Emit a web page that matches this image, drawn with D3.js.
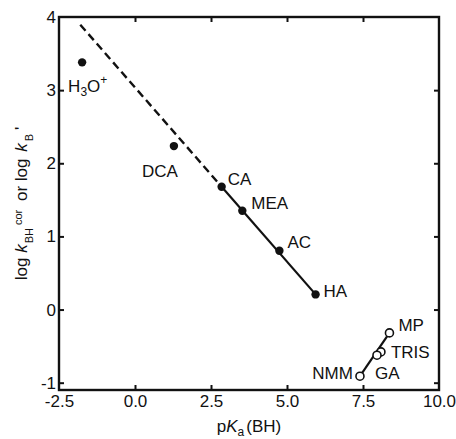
<!DOCTYPE html>
<html>
<head>
<meta charset="utf-8">
<script src="https://cdn.jsdelivr.net/npm/d3@7"></script>
<style>
  html, body { margin: 0; padding: 0; background: #fff; }
  svg { display: block; font-family: "Liberation Sans", Arial, Helvetica, sans-serif; }
</style>
</head>
<body>
<svg id="chart" width="456" height="439"></svg>
<script>
// Acid catalysts: pKa of the conjugate acid vs. log rate constant
const acidNames  = ["H3O+", "DCA", "CA", "MEA", "AC", "HA"];
const acidPKa    = [-1.74, 1.28, 2.85, 3.53, 4.75, 5.94];
const acidLogK   = [3.38, 2.235, 1.679, 1.35, 0.803, 0.207];

// Base catalysts (open symbols)
const baseNames  = ["MP", "TRIS", "GA", "NMM"];
const basePKa    = [8.37, 8.09, 7.96, 7.40];
const baseLogK   = [-0.319, -0.579, -0.624, -0.911];

// Linear fits: [intercept, slope, xStart, xSolidStart, xEnd]
const acidFit    = [3.037, -0.4764, -1.8, 2.85, 5.94];
const baseFit    = [-5.425, 0.610, 7.40, 7.40, 8.37];

const xDomain    = [-2.5, 10];
const yDomain    = [-1.1, 4];
const xTicks     = [-2.5, 0, 2.5, 5, 7.5, 10];
const yTicks     = [-1, 0, 1, 2, 3, 4];

const svg = d3.select("#chart");
const mLeft = 59, mRight = 439, mTop = 17, mBottom = 390;

const x = d3.scaleLinear().domain(xDomain).range([mLeft, mRight]);
const y = d3.scaleLinear().domain(yDomain).range([mBottom, mTop]);

const tickLen = 5;
const fontSize = 17;
const smallSize = 11;
const ink = "#111";

// plain hyphen for negative tick values
const fmtX = d => d3.format(".1f")(d).replace("\u2212", "-");
const fmtY = d => d3.format("d")(d).replace("\u2212", "-");

function styleAxis(g) {
  g.select(".domain").remove();
  g.selectAll(".tick line").attr("stroke", ink).attr("stroke-width", 2);
  g.selectAll(".tick text").attr("fill", ink).style("font-size", fontSize + "px")
    .style("font-family", "'Liberation Sans', Arial, Helvetica, sans-serif");
}

const innerX = xTicks.filter(d => d > xDomain[0] && d < xDomain[1]);
const innerY = yTicks.filter(d => d > yDomain[0] && d < yDomain[1]);

// tick labels
svg.append("g").attr("transform", `translate(0,${mBottom})`)
  .call(d3.axisBottom(x).tickValues(xTicks).tickSizeInner(0).tickSizeOuter(0)
    .tickPadding(5).tickFormat(fmtX))
  .call(styleAxis);
svg.append("g").attr("transform", `translate(${mLeft},0)`)
  .call(d3.axisLeft(y).tickValues(yTicks).tickSizeInner(0).tickSizeOuter(0)
    .tickPadding(3).tickFormat(fmtY))
  .call(styleAxis);

// inward ticks on all four sides
svg.append("g").attr("transform", `translate(0,${mBottom})`)
  .call(d3.axisBottom(x).tickValues(innerX).tickSizeInner(-tickLen).tickSizeOuter(0).tickFormat(""))
  .call(styleAxis);
svg.append("g").attr("transform", `translate(0,${mTop})`)
  .call(d3.axisTop(x).tickValues(innerX).tickSizeInner(-tickLen).tickSizeOuter(0).tickFormat(""))
  .call(styleAxis);
svg.append("g").attr("transform", `translate(${mLeft},0)`)
  .call(d3.axisLeft(y).tickValues(innerY).tickSizeInner(-tickLen).tickSizeOuter(0).tickFormat(""))
  .call(styleAxis);
svg.append("g").attr("transform", `translate(${mRight},0)`)
  .call(d3.axisRight(y).tickValues(innerY).tickSizeInner(-tickLen).tickSizeOuter(0).tickFormat(""))
  .call(styleAxis);

// plot frame
svg.append("rect")
  .attr("x", mLeft).attr("y", mTop)
  .attr("width", mRight - mLeft).attr("height", mBottom - mTop)
  .attr("fill", "none").attr("stroke", ink).attr("stroke-width", 2.4);

// fitted lines: dashed extrapolation, solid over the fitted range
function fitY(fit, xv) { return fit[0] + fit[1] * xv; }
function drawFit(fit) {
  const [, , x0, xs, x1] = fit;
  if (xs > x0) {
    svg.append("line")
      .attr("x1", x(x0)).attr("y1", y(fitY(fit, x0)))
      .attr("x2", x(xs)).attr("y2", y(fitY(fit, xs)))
      .attr("stroke", ink).attr("stroke-width", 2.4)
      .attr("stroke-dasharray", "8,4.5");
  }
  svg.append("line")
    .attr("x1", x(xs)).attr("y1", y(fitY(fit, xs)))
    .attr("x2", x(x1)).attr("y2", y(fitY(fit, x1)))
    .attr("stroke", ink).attr("stroke-width", 2.2);
}
drawFit(acidFit);
drawFit(baseFit);

// points
const acids = acidNames.map((n, i) => ({ name: n, px: acidPKa[i], ly: acidLogK[i] }));
const bases = baseNames.map((n, i) => ({ name: n, px: basePKa[i], ly: baseLogK[i] }));

svg.append("g").selectAll("circle").data(acids).join("circle")
  .attr("cx", d => x(d.px)).attr("cy", d => y(d.ly)).attr("r", 4.2)
  .attr("fill", ink);

svg.append("g").selectAll("circle").data(bases).join("circle")
  .attr("cx", d => x(d.px)).attr("cy", d => y(d.ly)).attr("r", 4)
  .attr("fill", "#fff").attr("stroke", ink).attr("stroke-width", 1.6);

// point labels: offsets in pixels from each marker
const labelPlace = {
  "H3O+": [-14, 30, "start"],
  "DCA":  [-32, 31, "start"],
  "CA":   [6, -2, "start"],
  "MEA":  [9, -2, "start"],
  "AC":   [8, -3, "start"],
  "HA":   [8, 3, "start"],
  "MP":   [9, -2, "start"],
  "TRIS": [10, 6, "start"],
  "GA":   [-2, 24, "start"],
  "NMM":  [-7, 3, "end"]
};

const labelG = svg.append("g").attr("fill", ink).style("font-size", fontSize + "px");
acids.concat(bases).forEach(d => {
  const [dx, dy, anchor] = labelPlace[d.name];
  const t = labelG.append("text")
    .attr("x", x(d.px) + dx).attr("y", y(d.ly) + dy)
    .attr("text-anchor", anchor);
  if (d.name === "H3O+") {
    t.append("tspan").text("H");
    t.append("tspan").attr("dy", 4).style("font-size", "12px").text("3");
    t.append("tspan").attr("dy", -4).text("O");
    t.append("tspan").attr("dy", -8).style("font-size", "12px").text("+");
  } else {
    t.text(d.name);
  }
});

// x axis title
const xt = svg.append("text")
  .attr("x", (mLeft + mRight) / 2).attr("y", 432)
  .attr("text-anchor", "middle").attr("fill", ink).style("font-size", fontSize + "px");
xt.append("tspan").text("p");
xt.append("tspan").style("font-style", "italic").text("K");
xt.append("tspan").attr("dy", 4).style("font-size", "12px").text("a");
xt.append("tspan").attr("dy", -4).attr("dx", 2).text("(BH)");

// y axis title, laid out along the rotated baseline
const yt = svg.append("text")
  .attr("transform", `translate(27,${(mTop + mBottom) / 2}) rotate(-90)`)
  .attr("text-anchor", "middle").attr("fill", ink).style("font-size", fontSize + "px");
yt.append("tspan").text("log ");
yt.append("tspan").style("font-style", "italic").text("k");
yt.append("tspan").attr("dy", 6).attr("dx", 1).style("font-size", smallSize + "px").text("BH");
yt.append("tspan").attr("dy", -11).attr("dx", 3).style("font-size", smallSize + "px").text("cor");
yt.append("tspan").attr("dy", 5).attr("dx", 4).text(" or log ");
yt.append("tspan").attr("dx", 2).style("font-style", "italic").text("k");
yt.append("tspan").attr("dy", 6).attr("dx", 2).style("font-size", smallSize + "px").text("B");
yt.append("tspan").attr("dy", -6).attr("dx", 4).text("'");
</script>
</body>
</html>
